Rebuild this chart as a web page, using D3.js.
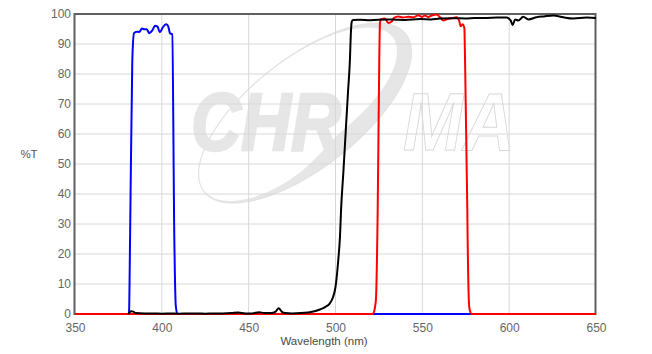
<!DOCTYPE html>
<html>
<head>
<meta charset="utf-8">
<script src="https://cdn.jsdelivr.net/npm/d3@7"></script>
<style>
  body { margin: 0; background: #fff; }
  svg { display: block; font-family: "Liberation Sans", Arial, sans-serif; }
</style>
</head>
<body>
<svg id="chart" width="652" height="354"></svg>
<script>
// transmission curves: [wavelength nm, %T]
var blueData = [[350,0],[380.5,0],[381.1,0.5],[381.7,24.7],[383.0,84.7],[384.0,93.6],[385.5,94.1],[387.0,94.0],
  [388.6,95.2],[389.9,94.9],[391.3,94.9],[392.8,93.6],[394.5,94.5],[396.1,96.1],[397.5,95.8],[398.9,93.9],
  [400.5,95.5],[402.4,96.6],[403.6,96.0],[404.7,93.6],[406.0,93.2],[407.2,24.7],[408.0,3],[408.9,0],[650,0]];

var redData = [[350,0],[521.3,0],[522.3,1],[522.8,2.5],[523.3,5],[524.3,34.7],[525.2,84.7],[525.6,97],
  [526.2,98.3],[528.5,98.5],[530.4,97.0],[532.4,97.5],[533.7,98.7],[536.2,99.2],[539.0,98.8],[541.9,99.1],
  [544.8,98.9],[547.7,99.6],[549.6,99.0],[551.5,99.5],[553.4,99.0],[555.4,99.5],[558.3,99.8],[560.2,98.9],
  [562.1,97.8],[564.0,98.2],[566.9,98.6],[569.8,98.9],[571.3,97.6],[572.1,95.9],[573.2,96.6],[574.2,95.3],
  [574.6,84.7],[575.9,34.7],[576.1,24.7],[577.0,2.4],[577.7,0.6],[578.4,0],[650,0]];

var blackData = [[380.7,0],[381.5,0.6],[382.5,0.9],[383.5,0.8],[385,0.3],[390,0.2],[395,0.2],[400,0.1],
  [405,0.2],[410,0.1],[415,0.2],[420,0.2],[425,0.1],[430,0.2],[435,0.2],[440,0.3],[444,0.5],[448,0.2],
  [452,0.2],[456,0.6],[459,0.3],[463,0.3],[465.5,0.8],[467.3,1.9],[469,0.8],[471,0.3],[475,0.2],[480,0.3],
  [484,0.5],[488,0.9],[491,1.5],[494,2.3],[496.8,3.6],[498.5,5.5],[500,9],[501.6,18],[502.6,26],[503.2,34.7],
  [504.5,47],[506,62],[507.2,74],[508.3,84.7],[508.8,93],[509.3,97.3],[510,98.0],[514,98.1],[520,97.9],
  [529.5,98.2],[535,98.1],[540,98.0],[548.7,98.3],[555,98.2],[560,98.5],[567.8,98.6],[575,98.5],[580,98.7],
  [587,98.7],[593,98.8],[598.6,98.8],[600.9,97.8],[602,96.3],[603.4,98.2],[605.3,97.8],[608.1,99.1],
  [611,98.2],[615.8,98.9],[620,99.2],[625.4,99.5],[631.2,98.9],[636.9,98.5],[644.6,98.8],[650,98.7]];

var xTicks = [350,400,450,500,550,600,650];
var yTicks = [0,10,20,30,40,50,60,70,80,90,100];

var svg = d3.select('#chart');
var x = d3.scaleLinear().domain([350,650]).range([75,596]);
var y = d3.scaleLinear().domain([0,100]).range([314,14]);

// watermark: tilted ring that gets thick where it makes the "O"
var wm = svg.append('g').attr('class', 'watermark');
var cx = 305, cy = 113, rx = 128, ry = 55, rot = -38 * Math.PI / 180;
var cr = Math.cos(rot), sr = Math.sin(rot);
var outerPts = [], innerPts = [];
for (var i = 0; i <= 180; i++) {
  var t = -Math.PI + i / 180 * 2 * Math.PI;
  var u = rx * Math.cos(t), v = ry * Math.sin(t);
  var d = Math.sqrt(u * u + v * v);
  var dt = t - 50 * Math.PI / 180;
  var w = 22 * Math.exp(-Math.pow(dt / (70 * Math.PI / 180), 2));
  var k = 1 - w / d;
  outerPts.push([cx + u * cr - v * sr, cy + u * sr + v * cr]);
  innerPts.push([cx + k * (u * cr - v * sr), cy + k * (u * sr + v * cr)]);
}
var ln = d3.line();
wm.append('path').attr('d', ln(outerPts.concat(innerPts.slice().reverse())) + 'Z')
  .attr('fill', '#e6e6e6');
wm.append('path').attr('d', ln(outerPts) + 'Z').attr('fill', 'none')
  .attr('stroke', '#e2e2e2').attr('stroke-width', 1.2);
wm.append('text').attr('x', 191).attr('y', 150).text('CHR')
  .attr('font-size', 81).attr('font-style', 'italic').attr('font-weight', 'bold')
  .attr('textLength', 150).attr('lengthAdjust', 'spacingAndGlyphs')
  .attr('fill', '#e6e6e6').attr('stroke', '#e6e6e6').attr('stroke-width', 2.5);
wm.append('text').attr('x', 403).attr('y', 150).text('MA')
  .attr('font-size', 81).attr('font-style', 'italic').attr('font-weight', 'bold')
  .attr('textLength', 112).attr('lengthAdjust', 'spacingAndGlyphs')
  .attr('fill', 'none').attr('stroke', '#d8d8d8').attr('stroke-width', 1);

// grid
svg.append('g').selectAll('line').data(xTicks.slice(1, -1)).enter().append('line')
  .attr('x1', d => x(d)).attr('x2', d => x(d)).attr('y1', y(0)).attr('y2', y(100))
  .attr('stroke', '#d8d8d8').attr('stroke-width', 1);
svg.append('g').selectAll('line').data(yTicks.slice(1, -1)).enter().append('line')
  .attr('y1', d => y(d)).attr('y2', d => y(d)).attr('x1', x(350)).attr('x2', x(650))
  .attr('stroke', '#d8d8d8').attr('stroke-width', 1);

// frame
svg.append('rect').attr('x', 74.5).attr('y', 14).attr('width', 521).attr('height', 300)
  .attr('fill', 'none').attr('stroke', '#5f5f5f').attr('stroke-width', 2);

// axes
var xAxis = svg.append('g').attr('transform', 'translate(0,314)')
  .call(d3.axisBottom(x).tickValues(xTicks).tickSize(0).tickPadding(9));
var yAxis = svg.append('g').attr('transform', 'translate(75,0)')
  .call(d3.axisLeft(y).tickValues(yTicks).tickSize(0).tickPadding(4));
[xAxis, yAxis].forEach(function (a) {
  a.select('.domain').remove();
  a.selectAll('text').attr('fill', '#666').attr('font-size', 12)
    .attr('font-family', '"Liberation Sans", Arial, sans-serif');
});

svg.append('text').attr('x', 29).attr('y', 158).attr('text-anchor', 'middle')
  .attr('font-size', 11.5).attr('fill', '#555').text('%T');
svg.append('text').attr('x', 324).attr('y', 345).attr('text-anchor', 'middle')
  .attr('font-size', 11.5).attr('fill', '#4a4a4a').text('Wavelength (nm)');

// curves
var line = d3.line().x(d => x(d[0])).y(d => y(d[1])).curve(d3.curveMonotoneX);
[[blueData, '#0000ff'], [redData, '#ff0000'], [blackData, '#000']].forEach(function (s) {
  svg.append('path').datum(s[0]).attr('d', line)
    .attr('fill', 'none').attr('stroke', s[1]).attr('stroke-width', 2)
    .attr('stroke-linejoin', 'round');
});
</script>
</body>
</html>
